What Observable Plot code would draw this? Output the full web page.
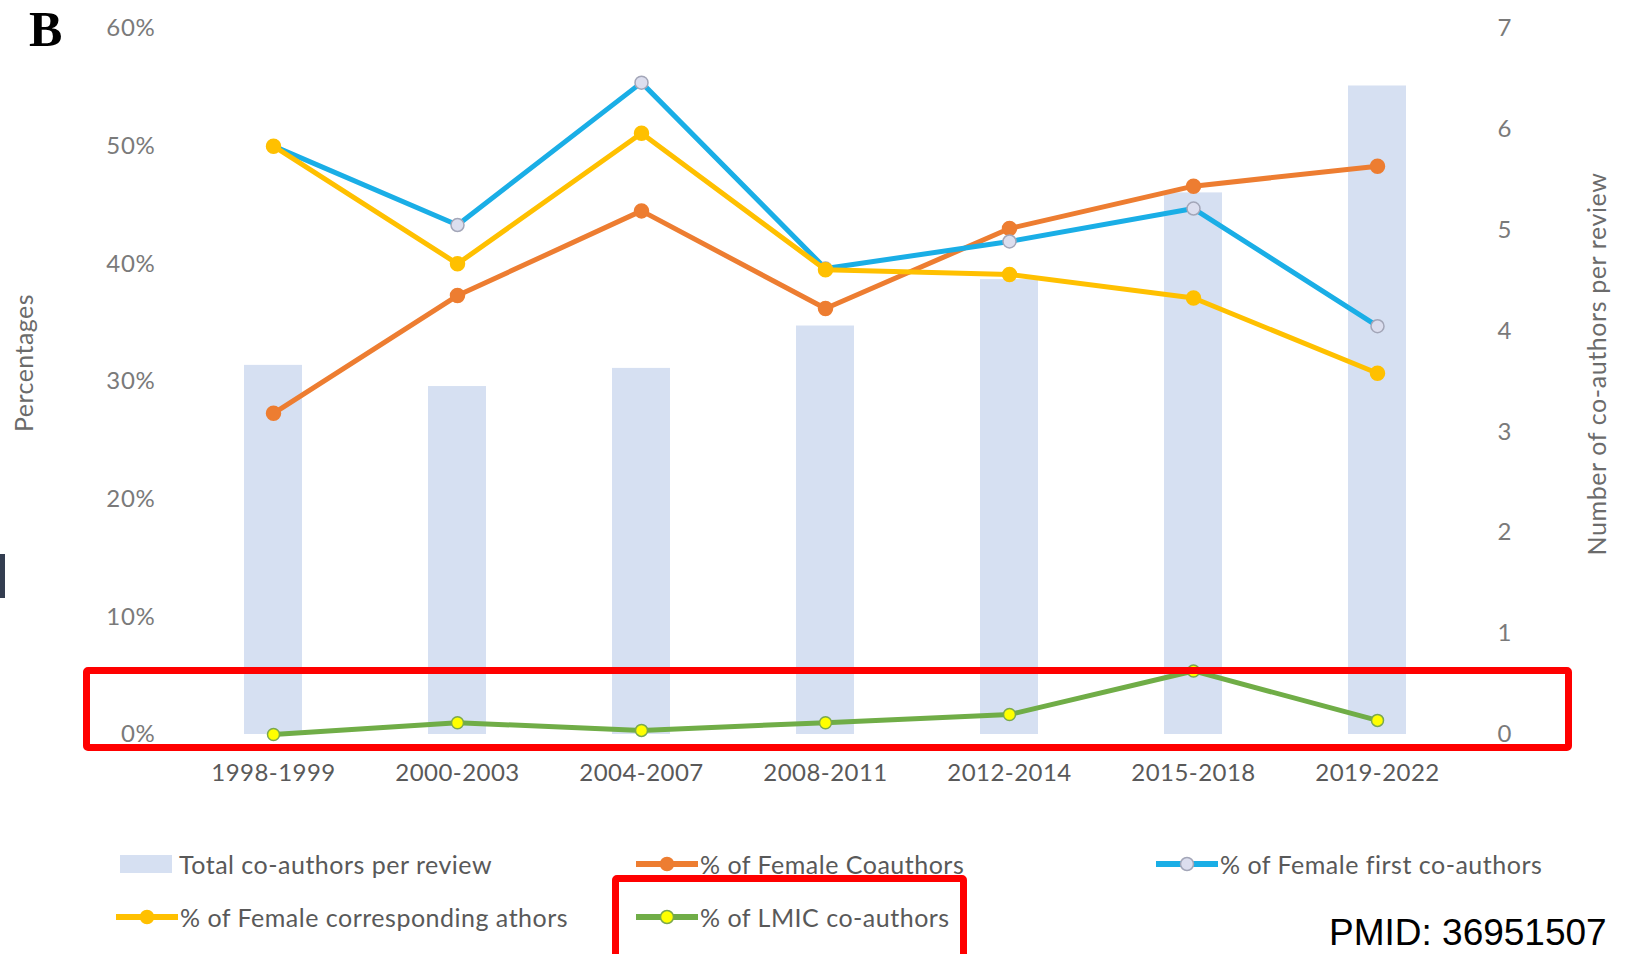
<!DOCTYPE html>
<html>
<head>
<meta charset="utf-8">
<script src="https://cdn.jsdelivr.net/npm/d3@7"></script>
<script src="https://cdn.jsdelivr.net/npm/@observablehq/plot@0.6"></script>
<style>
  html, body { margin: 0; padding: 0; background: #fff; }
  #wrap { position: relative; width: 1635px; height: 954px; overflow: hidden; font-family: Lato, "Open Sans", sans-serif; }
  #chart { position: absolute; left: 0; top: 0; }
  .abs { position: absolute; white-space: nowrap; }
  .legend-item { position: absolute; display: flex; align-items: center; font-size: 25px; letter-spacing: 0.5px; color: #595959; transform: translateY(-50%); white-space: nowrap; }
  .legend-item svg { margin-right: 2px; }
  .redbox { position: absolute; border: 7px solid #ff0000; border-radius: 5px; box-sizing: border-box; }
</style>
</head>
<body>
<div id="wrap">
  <div id="chart"></div>
</div>
<script>
// ---- data ----
const categories = ["1998-1999", "2000-2003", "2004-2007", "2008-2011", "2012-2014", "2015-2018", "2019-2022"];
const totalCoauthors = [3.66, 3.45, 3.63, 4.05, 4.51, 5.37, 6.43];          // right axis (count)
const femaleCoauthors = [27.3, 37.3, 44.5, 36.2, 43.0, 46.6, 48.3];          // %
const femaleFirst = [50.0, 43.3, 55.4, 39.6, 41.9, 44.7, 34.7];              // %
const femaleCorresponding = [50.0, 40.0, 51.1, 39.5, 39.1, 37.1, 30.7];      // %
const lmic = [0.0, 1.0, 0.35, 1.0, 1.7, 5.4, 1.2];                           // %
const leftTicks = [0, 10, 20, 30, 40, 50, 60];
const rightTicks = [0, 1, 2, 3, 4, 5, 6, 7];
const legendLabels = ["Total co-authors per review", "% of Female Coauthors", "% of Female first co-authors",
  "% of Female corresponding athors", "% of LMIC co-authors"];

// right axis 0..7 shares the pixel range of left axis 0..60%
const k = 60 / 7;
const bars = categories.map((c, i) => ({cat: c, v: totalCoauthors[i] * k}));
const series = (arr) => categories.map((c, i) => ({cat: c, v: arr[i]}));

const colors = {
  bar: "#d6e0f2",
  orange: "#ed7d31",
  blue: "#1aaee6",
  yellow: "#ffc000",
  green: "#70ad47"
};

const chart = Plot.plot({
  width: 1635,
  height: 800,
  marginLeft: 180,
  marginRight: 165,
  marginTop: 28,
  marginBottom: 66,
  style: {fontFamily: "Lato, 'Open Sans', sans-serif", background: "transparent"},
  x: {domain: categories, paddingInner: 0.685, paddingOuter: 0.3425},
  y: {domain: [0, 60]},
  marks: [
    Plot.barY(bars, {x: "cat", y: "v", fill: colors.bar}),
    Plot.axisX({tickSize: 0, tickPadding: 29, fontSize: 24, fill: "#595959", label: null}),
    Plot.axisY(leftTicks, {anchor: "left", tickSize: 0, tickPadding: 25, fontSize: 24, fill: "#7a7a7a",
      tickFormat: d => d + "%", label: null}),
    Plot.axisY(rightTicks.map(v => v * k), {anchor: "right", tickSize: 0, tickPadding: 27, fontSize: 24, fill: "#7a7a7a",
      tickFormat: d => String(Math.round(d / k)), label: null}),
    // % of Female Coauthors
    Plot.lineY(series(femaleCoauthors), {x: "cat", y: "v", stroke: colors.orange, strokeWidth: 5}),
    Plot.dot(series(femaleCoauthors), {x: "cat", y: "v", r: 7, fill: colors.orange, stroke: colors.orange}),
    // % of Female first co-authors
    Plot.lineY(series(femaleFirst), {x: "cat", y: "v", stroke: colors.blue, strokeWidth: 5}),
    Plot.dot(series(femaleFirst), {x: "cat", y: "v", r: 6.5, fill: "#dcdeee", stroke: "#a3a6b8", strokeWidth: 1.5}),
    // % of Female corresponding athors
    Plot.lineY(series(femaleCorresponding), {x: "cat", y: "v", stroke: colors.yellow, strokeWidth: 5}),
    Plot.dot(series(femaleCorresponding), {x: "cat", y: "v", r: 7, fill: colors.yellow, stroke: colors.yellow}),
    // % of LMIC co-authors
    Plot.lineY(series(lmic), {x: "cat", y: "v", stroke: colors.green, strokeWidth: 5}),
    Plot.dot(series(lmic), {x: "cat", y: "v", r: 6, fill: "#ffff00", stroke: "#7aa84e", strokeWidth: 1.5})
  ]
});
document.getElementById("chart").appendChild(chart);
d3.select(chart).selectAll('g[aria-label="x-axis tick label"]').style("letter-spacing", "0.45px");
d3.select(chart).selectAll('g[aria-label="y-axis tick label"]').style("letter-spacing", "0.7px");

const wrap = document.getElementById("wrap");
function addDiv(cls, style, html) {
  const d = document.createElement("div");
  d.className = cls;
  d.setAttribute("style", style);
  if (html !== undefined) d.innerHTML = html;
  wrap.appendChild(d);
  return d;
}

// panel letter
addDiv("abs", "left:29px;top:0px;font-family:'Liberation Serif','DejaVu Serif',serif;font-weight:bold;font-size:50px;color:#000;", "B");
// axis titles
addDiv("abs", "left:23px;top:363px;transform:translate(-50%,-50%) rotate(-90deg);font-size:25px;letter-spacing:0.45px;color:#6b6b6b;", "Percentages");
addDiv("abs", "left:1596px;top:364px;transform:translate(-50%,-50%) rotate(-90deg);font-size:25px;letter-spacing:0.6px;color:#6b6b6b;", "Number of co-authors per review");

// legend
function lineSwatch(color, dotFill, dotStroke) {
  return `<svg width="62" height="20"><line x1="1" y1="10" x2="61" y2="10" stroke="${color}" stroke-width="6" stroke-linecap="round"/>` +
    `<circle cx="31" cy="10" r="6.5" fill="${dotFill}" stroke="${dotStroke}" stroke-width="1.5"/></svg>`;
}
const legendItems = [
  {x: 120, y: 864, sw: `<svg width="57" height="20"><rect x="0" y="1" width="52" height="18" fill="${colors.bar}"/></svg>`, label: legendLabels[0]},
  {x: 636, y: 864, sw: lineSwatch(colors.orange, colors.orange, colors.orange), label: legendLabels[1]},
  {x: 1156, y: 864, sw: lineSwatch(colors.blue, "#dcdeee", "#a3a6b8"), label: legendLabels[2]},
  {x: 116, y: 917, sw: lineSwatch(colors.yellow, colors.yellow, colors.yellow), label: legendLabels[3]},
  {x: 636, y: 917, sw: lineSwatch(colors.green, "#ffff00", "#7aa84e"), label: legendLabels[4]}
];
legendItems.forEach(it => addDiv("legend-item", `left:${it.x}px;top:${it.y}px;`, it.sw + `<span>${it.label}</span>`));

// PMID caption
addDiv("abs", "left:1329px;top:913px;font-family:'Liberation Sans',Arial,sans-serif;font-size:37px;line-height:1.1;color:#000;", "PMID: 36951507");

// highlight boxes
addDiv("redbox", "left:83px;top:667px;width:1489px;height:84px;");
addDiv("redbox", "left:612px;top:875px;width:355px;height:95px;");
// dark fragment on left edge
addDiv("abs", "left:0px;top:554px;width:5px;height:44px;background:#333d50;");
</script>
</body>
</html>
